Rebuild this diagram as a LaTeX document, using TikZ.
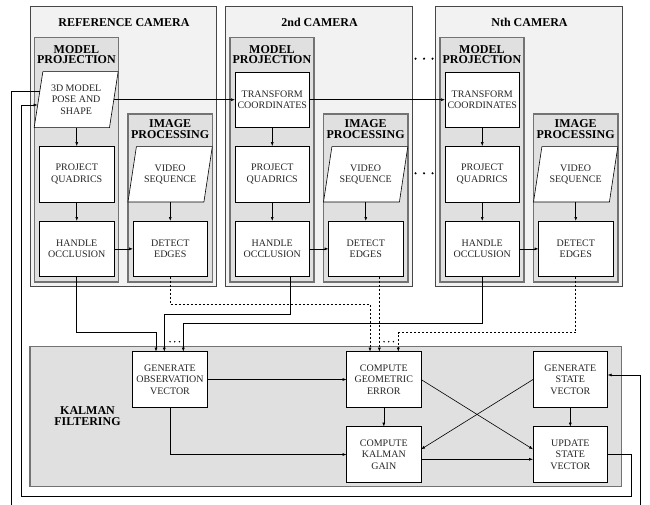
\documentclass[tikz,border=0pt]{standalone}
\usepackage{fontspec}
\setmainfont{Liberation Serif}
\usetikzlibrary{arrows.meta,calc}
\pgfdeclarelayer{back}
\pgfdeclarelayer{mid}
\pgfsetlayers{back,mid,main}
\newcommand\drawpara[2]{% #1 node name, #2 slant
  \begin{pgfonlayer}{mid}
    \filldraw[iobox] (#1.south west) -- ($(#1.north west)+(#2,0)$) -- (#1.north east) -- ($(#1.south east)+(-#2,0)$) -- cycle;
  \end{pgfonlayer}}
\begin{document}
\begin{tikzpicture}[x=1pt,y=-1pt,
  camout/.style={draw=black!72, fill=black!5, line width=0.8pt},
  subbox/.style={draw=black!55, fill=black!12, line width=1.5pt},
  boxtext/.style={inner sep=0pt, outer sep=0pt, align=center, text=black!85, font=\fontsize{10}{11.5}\selectfont},
  proc/.style={boxtext, draw=black, fill=white, line width=0.6pt, minimum width=74.5pt, minimum height=55.7pt},
  io/.style={boxtext, minimum width=84pt, minimum height=56pt},
  iobox/.style={draw=black, fill=white, line width=0.6pt},
  title/.style={font=\fontsize{12}{10.7}\selectfont\bfseries, align=center, inner sep=0pt},
  conn/.style={line width=0.6pt},
  arr/.style={conn, -{Latex[length=4pt,width=3pt]}},
  dsh/.style={dash pattern=on 2pt off 2pt}
]
\useasboundingbox (0,0) rectangle (650,505);

% cameras
\foreach \x/\i/\t in {30/1/REFERENCE CAMERA, 225.5/2/2nd CAMERA, 435.5/3/Nth CAMERA}{
  \begin{pgfonlayer}{back}
  \draw[camout] (\x,6.7) rectangle (\x+186.5,286.5);
  \draw[subbox] (\x+4.3,37.7) rectangle (\x+88.5,282);
  \draw[subbox] (\x+98,114) rectangle (\x+182.3,282);
  \end{pgfonlayer}
  \node[title] (ct\i) at (\x+94,22.3) {\t};
  \node[title] (mpt\i) at (\x+46.4,54.7) {MODEL\\PROJECTION};
  \node[title] (ipt\i) at (\x+140.15,129.4) {IMAGE\\PROCESSING};
  \node[proc] (pq\i) at (\x+46.75,174) {PROJECT\\QUADRICS};
  \node[proc] (hoc\i) at (\x+46.75,248.85) {HANDLE\\OCCLUSION};
  \node[io, minimum width=84.3pt, minimum height=55.3pt] (vs\i) at (\x+140.15,174.35) {VIDEO\\SEQUENCE};
  \drawpara{vs\i}{8.4}
  \node[proc] (de\i) at (\x+140.25,248.85) {DETECT\\EDGES};
  \draw[arr] (pq\i) -- (hoc\i);
  \draw[arr] (hoc\i) -- (de\i);
  \draw[arr] (de\i.north |- vs\i.south) -- (de\i.north);
}

\node[io] (pose) at (76.15,99.7) {3D MODEL\\POSE AND\\SHAPE};
\drawpara{pose}{8.7}
\node[proc] (tc2) at (272.25,99.7) {TRANSFORM\\COORDINATES};
\node[proc] (tc3) at (482.25,99.7) {TRANSFORM\\COORDINATES};
\draw[arr] (pq1.north |- pose.south) -- (pq1.north);
\draw[arr] (tc2) -- (pq2);
\draw[arr] (tc3) -- (pq3);
\draw[arr] ($(pose.east)+(-4.35,0)$) -- (tc2.west);
\draw[arr] (tc2.east) -- (tc3.west);

% dots between cameras
\foreach \yy in {58.7,173.3}{
  \foreach \xx in {415.5,424,432.5}{\fill (\xx,\yy) circle (1.2);}
}

% Kalman filtering
\begin{pgfonlayer}{back}
\draw[subbox] (30,346.7) rectangle (621.7,486.7);
\end{pgfonlayer}
\node[title] (kf) at (87.5,416.2) {KALMAN\\FILTERING};
\node[proc] (obs) at (170,379.5) {GENERATE\\OBSERVATION\\VECTOR};
\node[proc] (geo) at (383.8,379.5) {COMPUTE\\GEOMETRIC\\ERROR};
\node[proc] (gain) at (383.8,454.5) {COMPUTE\\KALMAN\\GAIN};
\node[proc] (gsv) at (570.3,379.5) {GENERATE\\STATE\\VECTOR};
\node[proc] (usv) at (570.3,454.5) {UPDATE\\STATE\\VECTOR};

% camera -> kalman
\draw[arr] (hoc1.south) |- ([xshift=-14pt,yshift=19pt]obs.north) -- ([xshift=-14pt]obs.north);
\draw[arr] ([xshift=18.3pt]hoc2.south) |- ([xshift=-5.7pt,yshift=37.7pt]obs.north) -- ([xshift=-5.7pt]obs.north);
\draw[arr] (hoc3.south) |- ([xshift=13.3pt,yshift=28.4pt]obs.north) -- ([xshift=13.3pt]obs.north);
\draw[arr,dsh] (de1.south) |- ([xshift=-13.8pt,yshift=47.4pt]geo.north) -- ([xshift=-13.8pt]geo.north);
\draw[arr,dsh] ([xshift=13.6pt]de2.south) -- ([xshift=13.6pt]de2.south |- geo.north);
\draw[arr,dsh] (de3.south) |- ([xshift=14.5pt,yshift=19pt]geo.north) -- ([xshift=14.5pt]geo.north);
\foreach \xx in {170,174.7,179.4}{\fill (\xx,341.7) circle (0.8);}
\foreach \xx in {384,388.7,393.4}{\fill (\xx,341.7) circle (0.8);}

% inside Kalman
\draw[arr] (obs.east) -- (geo.west);
\draw[arr] (obs.south) |- (gain.west);
\draw[arr] (geo.south) -- (gain.north);
\draw[arr] (gsv.south) -- (usv.north);
\draw[arr] (geo.east) -- ([yshift=5.2pt]usv.west);
\draw[arr] (gsv.west) -- ([yshift=5.2pt]gain.east);
\draw[arr] ([yshift=-4.8pt]gain.east) -- ([yshift=-4.8pt]usv.west);

% feedback loops
\coordinate (poseIn) at ($(pose.west)+(3.5,5.3)$);
\coordinate (poseOut) at ($(pose.west)+(5.59,-8)$);
\coordinate (fbR) at (631.7,496.3);
\coordinate (fbL) at (21,496.3);
\coordinate (botL) at (11.7,505);
\coordinate (botR) at (640.7,505);
\draw[arr] (usv.east) -| (fbR) -- (fbL) |- (poseIn);
\draw[conn] (poseOut) -| (botL);
\draw[arr] (botR) |- ([yshift=4.5pt]gsv.east);
\end{tikzpicture}
\end{document}
